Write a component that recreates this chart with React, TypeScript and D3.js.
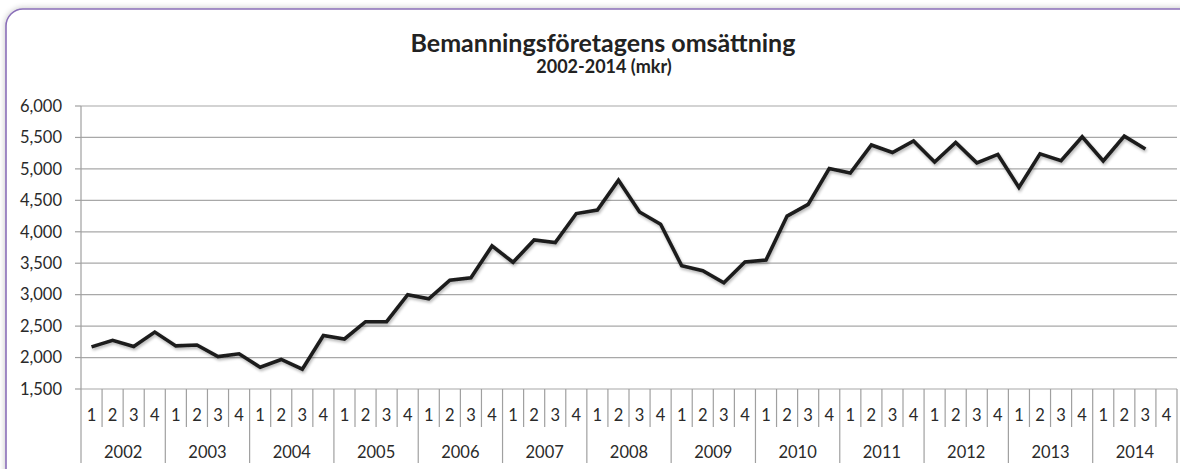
import React from "react";
import * as d3 from "d3";

const years = ["2002","2003","2004","2005","2006","2007","2008","2009","2010","2011","2012","2013","2014"];
const quarterLabels = ["1","2","3","4"];
const yTicks = [1500,2000,2500,3000,3500,4000,4500,5000,5500,6000];
const revenue = [
  2170, 2275, 2175, 2405, 2185, 2200, 2015, 2060, 1845, 1970, 1815, 2350, 2295,
  2570, 2570, 3000, 2935, 3230, 3270, 3775, 3515, 3870, 3830, 4290, 4345, 4820,
  4315, 4120, 3460, 3380, 3190, 3520, 3550, 4250, 4435, 5005, 4935, 5380, 5260,
  5445, 5110, 5420, 5095, 5230, 4705, 5240, 5130, 5510, 5125, 5520, 5315,
];

const W = 1180, H = 469;
const left = 81, right = 1177, top = 106, bottom = 389;
const FONT = "Lato, 'Noto Sans', sans-serif";

export default function App() {
  const cats: string[] = [];
  years.forEach(y => quarterLabels.forEach(q => cats.push(y + "-" + q)));
  const x = d3.scaleBand<string>().domain(cats).range([left, right]).paddingInner(0).paddingOuter(0);
  const y = d3.scaleLinear().domain([1500, 6000]).range([bottom, top]);
  const line = d3.line<number>()
    .x((_, i) => (x(cats[i]) as number) + x.bandwidth() / 2)
    .y(d => y(d));
  const fmt = d3.format(",");
  const bw = x.bandwidth();
  const gridColor = "#a8a8a8";
  const axisColor = "#a0a0a0";

  return (
    <div style={{ position: "fixed", left: 0, top: 0, width: W, height: H, background: "#fff" }}>
      <svg width={W} height={H} style={{ display: "block" }}>
        <defs>
          <filter id="boxShadow" x="-5%" y="-5%" width="110%" height="110%">
            <feGaussianBlur in="SourceAlpha" stdDeviation="3" />
            <feComponentTransfer><feFuncA type="linear" slope="0.25" /></feComponentTransfer>
            <feMerge><feMergeNode /><feMergeNode in="SourceGraphic" /></feMerge>
          </filter>
          <filter id="lineShadow" x="-5%" y="-10%" width="110%" height="130%">
            <feGaussianBlur in="SourceAlpha" stdDeviation="1.5" />
            <feOffset dx="1" dy="2" result="off" />
            <feComponentTransfer><feFuncA type="linear" slope="0.3" /></feComponentTransfer>
            <feMerge><feMergeNode /><feMergeNode in="SourceGraphic" /></feMerge>
          </filter>
        </defs>
        <rect x={6} y={9} width={1200} height={490} rx={17} ry={17} fill="#fff"
          stroke="#8a6fb8" strokeWidth={1.6} filter="url(#boxShadow)" />

        <text x={603} y={52} textAnchor="middle" fontFamily={FONT} fontWeight="bold"
          fontSize={25} fill="#222">Bemanningsföretagens omsättning</text>
        <text x={604} y={73} textAnchor="middle" fontFamily={FONT} fontWeight="bold"
          fontSize={18} fill="#222">2002-2014 (mkr)</text>

        {yTicks.map(t => (
          <g key={t}>
            <line x1={left} x2={right} y1={y(t)} y2={y(t)} stroke={gridColor} strokeWidth={1.2} />
            <line x1={left - 6} x2={left} y1={y(t)} y2={y(t)} stroke={axisColor} strokeWidth={1.2} />
            <text x={62} y={y(t)} dy="0.35em" textAnchor="end" fontFamily={FONT}
              fontSize={16.5} fill="#2a2a2a">{fmt(t)}</text>
          </g>
        ))}
        <line x1={left} x2={left} y1={top} y2={bottom} stroke={axisColor} strokeWidth={1.2} />

        {cats.map((c, i) => {
          const x0 = x(c) as number;
          const isYear = i % 4 === 0;
          return (
            <g key={c}>
              <line x1={x0} x2={x0} y1={bottom} y2={isYear ? 463 : 427} stroke={axisColor} strokeWidth={1.2} />
              <text x={x0 + bw / 2} y={421} textAnchor="middle" fontFamily={FONT}
                fontSize={16.5} fill="#2a2a2a">{quarterLabels[i % 4]}</text>
            </g>
          );
        })}
        <line x1={right} x2={right} y1={bottom} y2={463} stroke={axisColor} strokeWidth={1.2} />
        {years.map((yr, j) => {
          const x0 = x(cats[j * 4]) as number;
          return (
            <text key={yr} x={x0 + bw * 2} y={458} textAnchor="middle" fontFamily={FONT}
              fontSize={16.5} fill="#2a2a2a">{yr}</text>
          );
        })}

        <path d={line(revenue) || ""} fill="none" stroke="#1c1c1c" strokeWidth={3.6}
          strokeLinejoin="miter" strokeMiterlimit={4} filter="url(#lineShadow)" />
      </svg>
    </div>
  );
}
